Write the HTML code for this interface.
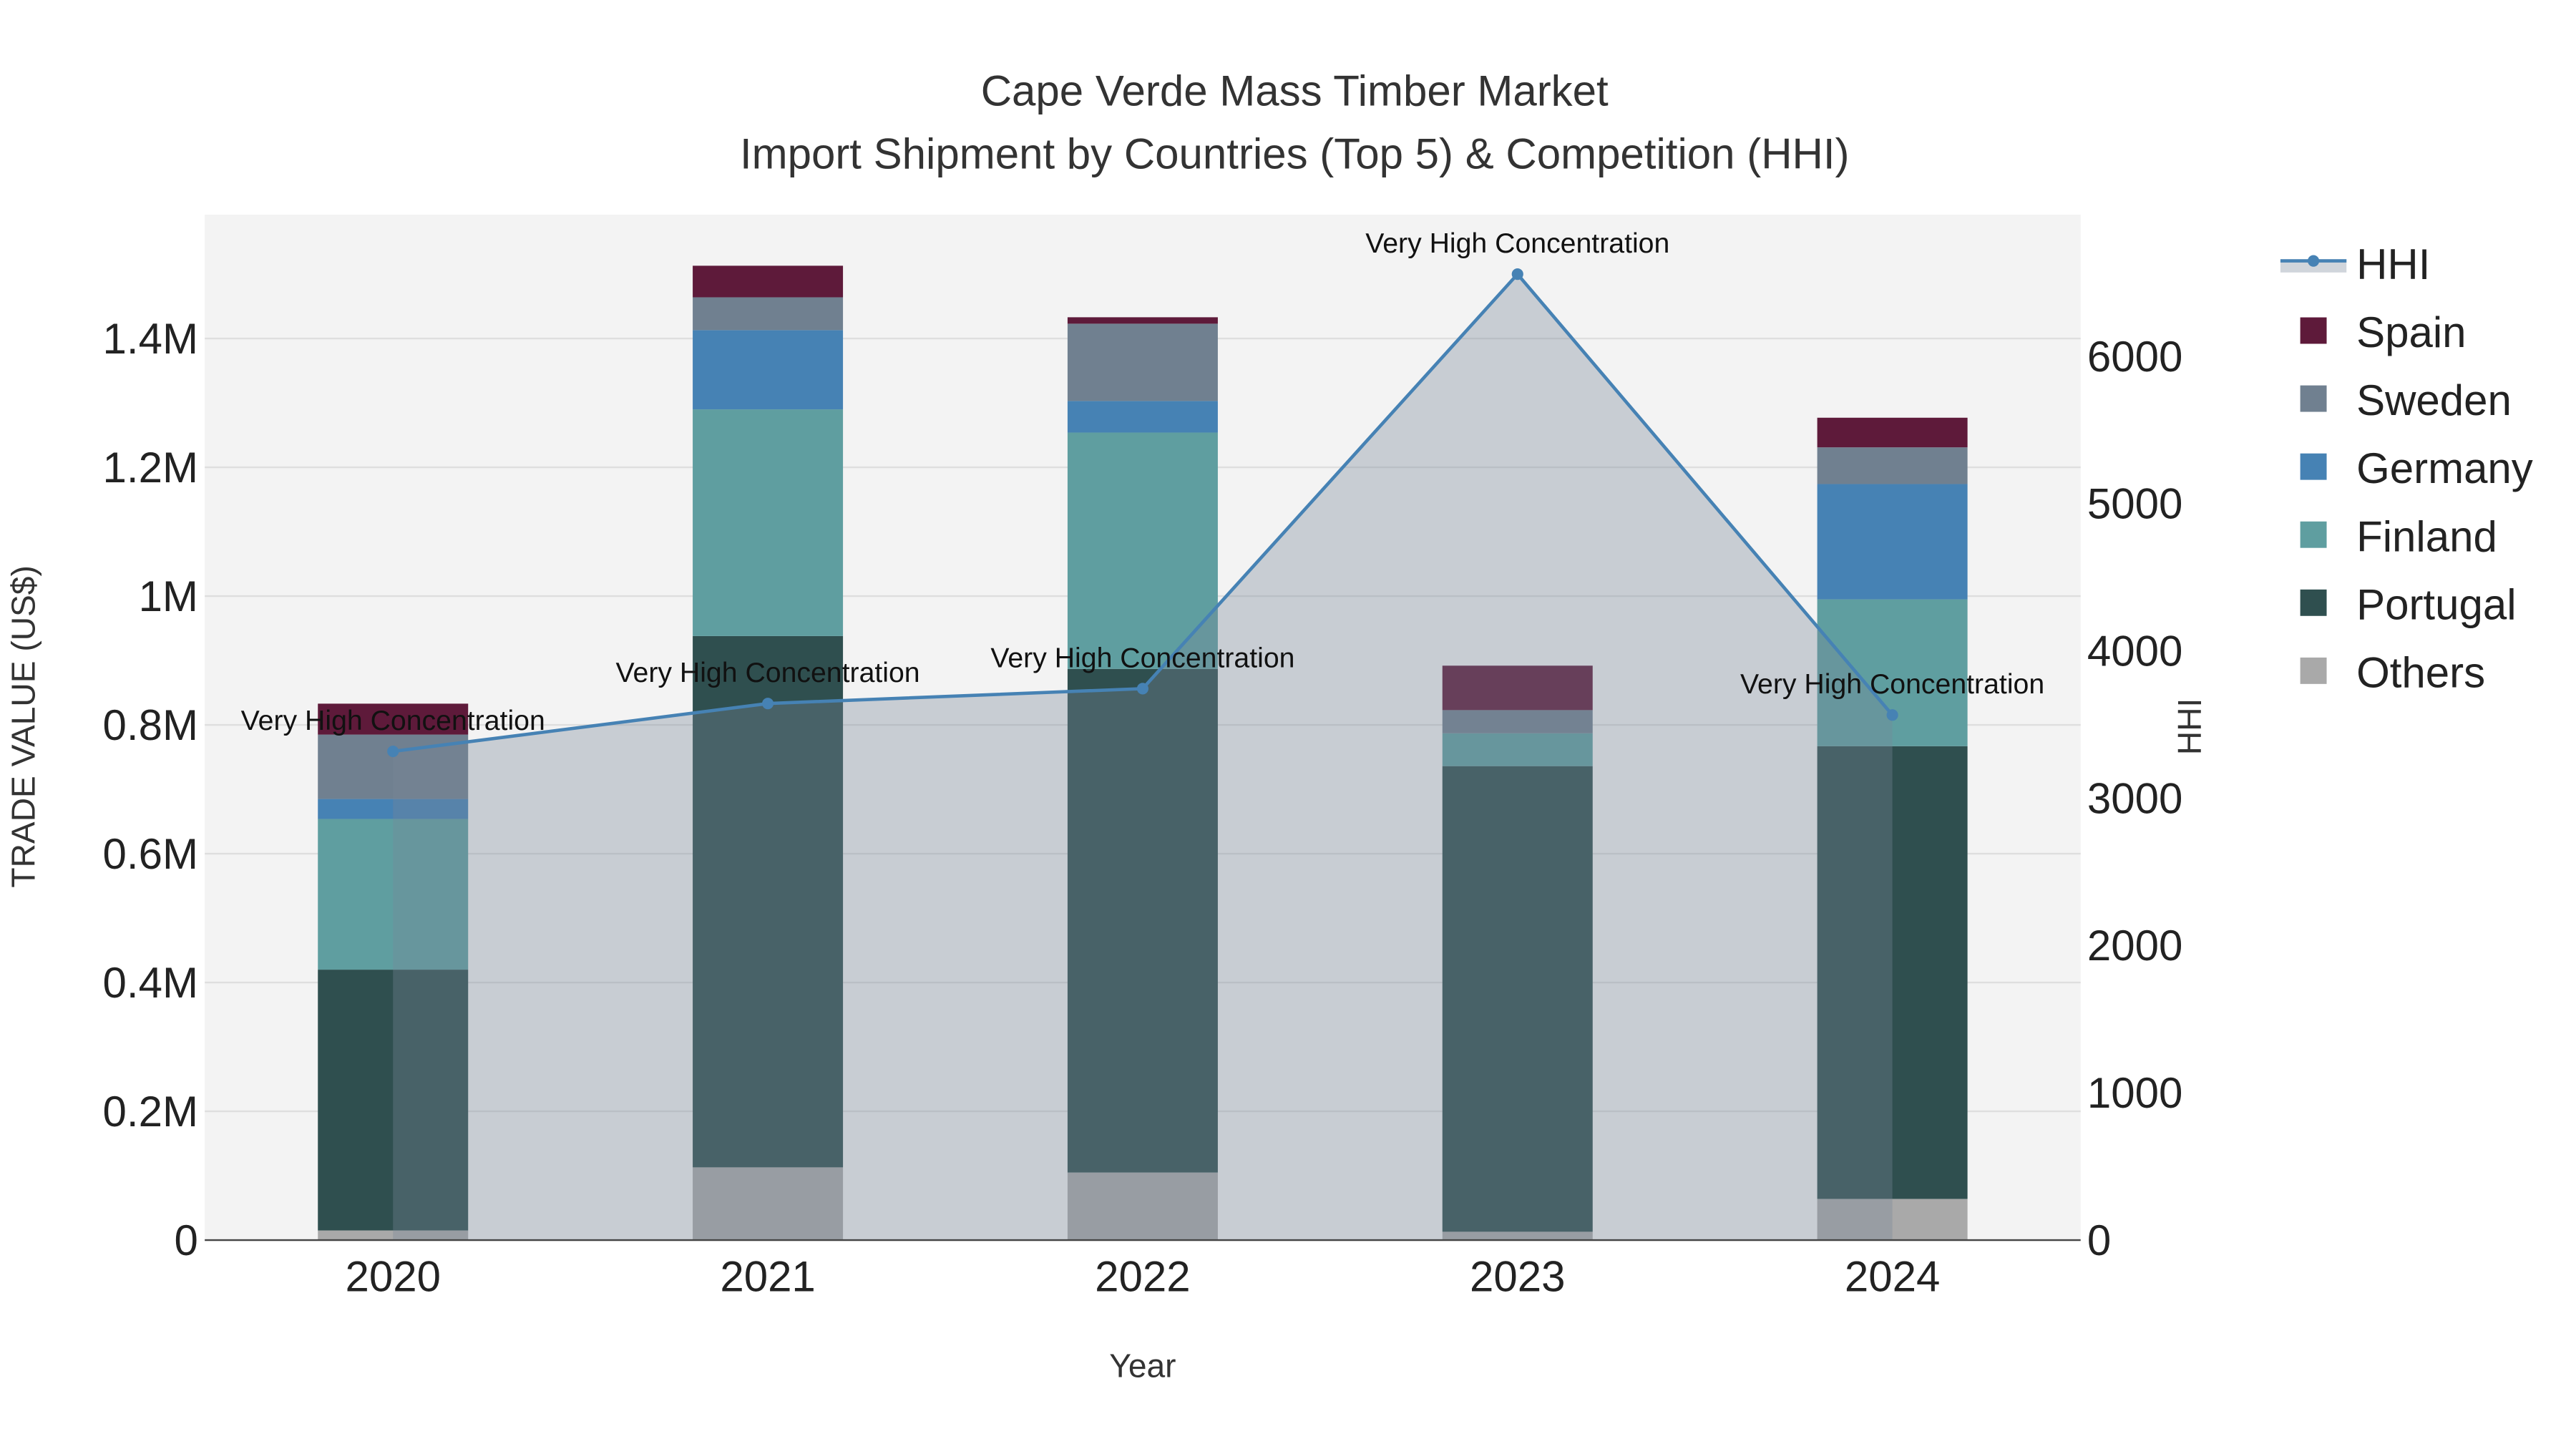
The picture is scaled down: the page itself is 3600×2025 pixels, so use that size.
<!DOCTYPE html>
<html><head><meta charset="utf-8"><style>
html,body{margin:0;padding:0;background:#fff;}
svg{display:block;font-family:"Liberation Sans",sans-serif;}
</style></head><body>
<svg id="chart" width="3600" height="2025" viewBox="0 0 1560 877.5" xmlns="http://www.w3.org/2000/svg">
<rect width="1560" height="877.5" fill="#fff"/>
<rect x="124" y="130" width="1136" height="621" fill="#f3f3f3"/>
<g id="grid"></g>
<g id="bars"></g>
<g id="hhi"></g>
<g id="axes"></g>
<text x="784" y="64" text-anchor="middle" font-size="26" fill="#333">Cape Verde Mass Timber Market</text>
<text x="784" y="102" text-anchor="middle" font-size="26" fill="#333">Import Shipment by Countries (Top 5) &amp; Competition (HHI)</text>
<text x="692" y="834" text-anchor="middle" font-size="20" fill="#333">Year</text>
<text transform="translate(21,440) rotate(-90)" text-anchor="middle" font-size="20" fill="#333">TRADE VALUE (US$)</text>
<text transform="translate(1333,440) rotate(-90)" text-anchor="middle" font-size="20" fill="#333">HHI</text>
<g id="legend"></g>
</svg>
<script>
const years = ["2020","2021","2022","2023","2024"];
const others   = [0.015, 0.113, 0.105, 0.013, 0.064];
const portugal = [0.405, 0.825, 0.782, 0.723, 0.703];
const finland  = [0.234, 0.352, 0.367, 0.051, 0.228];
const germany  = [0.031, 0.123, 0.049, 0.000, 0.179];
const sweden   = [0.100, 0.051, 0.120, 0.036, 0.057];
const spain    = [0.048, 0.049, 0.010, 0.069, 0.046];
const hhi = [3318, 3643, 3744, 6558, 3565];
const hhiLabels = ["Very High Concentration","Very High Concentration","Very High Concentration","Very High Concentration","Very High Concentration"];
const yTicks = [0,0.2,0.4,0.6,0.8,1.0,1.2,1.4];
const yTickLabels = ["0","0.2M","0.4M","0.6M","0.8M","1M","1.2M","1.4M"];
const y2Ticks = [0,1000,2000,3000,4000,5000,6000];
const seriesNames = ["Others","Portugal","Finland","Germany","Sweden","Spain"];
const seriesColors = ["#a9a9a9","#2f4f4f","#5f9ea0","#4682b4","#708090","#5e1a3a"];

const NS="http://www.w3.org/2000/svg";
const X0=124,X1=1260,Y0=751,YT=130;
const xScale=i=>238+i*227;
const yScale=v=>Y0-v*390;
const y2Scale=v=>Y0-v*0.0892;
function mk(tag,attrs,parent){const e=document.createElementNS(NS,tag);for(const k in attrs)e.setAttribute(k,attrs[k]);parent.appendChild(e);return e;}

const grid=document.getElementById('grid');
yTicks.forEach((t,i)=>{
  const l=mk('line',{x1:X0,x2:X1,y1:yScale(t),y2:yScale(t),stroke:'#dedede','stroke-width':1},grid);
  
  
});
const bars=document.getElementById('bars');
const allSeries=[others,portugal,finland,germany,sweden,spain];
years.forEach((y,i)=>{
  let cum=0;
  allSeries.forEach((s,k)=>{
    const v=s[i]; if(v<=0){return;}
    const r=mk('rect',{x:xScale(i)-45.5,width:91,y:yScale(cum+v),height:yScale(cum)-yScale(cum+v),fill:seriesColors[k]},bars);
    
    
    cum+=v;
  });
});
const g=document.getElementById('hhi');
let pts=hhi.map((v,i)=>xScale(i)+','+y2Scale(v));
const area=mk('polygon',{points:xScale(0)+','+Y0+' '+pts.join(' ')+' '+xScale(hhi.length-1)+','+Y0,fill:'rgba(119,136,153,0.35)'},g);


const line=mk('polyline',{points:pts.join(' '),fill:'none',stroke:'#4682b4','stroke-width':2},g);


hhi.forEach((v,i)=>{
  const c=mk('circle',{cx:xScale(i),cy:y2Scale(v),r:3.5,fill:'#4682b4'},g);
  
  
  const t=mk('text',{x:xScale(i),y:y2Scale(v)-13,'text-anchor':'middle','font-size':17,fill:'#111'},g);
  t.textContent=hhiLabels[i];
  
  
});
const ax=document.getElementById('axes');
const base=mk('line',{x1:X0,x2:X1,y1:Y0,y2:Y0,stroke:'#444','stroke-width':1},ax);


yTicks.forEach((t,i)=>{
  const e=mk('text',{x:120,y:yScale(t)+9,'text-anchor':'end','font-size':26,fill:'#222'},ax);
  e.textContent=yTickLabels[i];
  
  
});
y2Ticks.forEach(t=>{
  const e=mk('text',{x:1264,y:y2Scale(t)+9,'text-anchor':'start','font-size':26,fill:'#222'},ax);
  e.textContent=String(t);
  
  
});
years.forEach((y,i)=>{
  const e=mk('text',{x:xScale(i),y:782,'text-anchor':'middle','font-size':26,fill:'#222'},ax);
  e.textContent=y;
  
  
});
const lg=document.getElementById('legend');
const ent=[["HHI",null],["Spain","#5e1a3a"],["Sweden","#708090"],["Germany","#4682b4"],["Finland","#5f9ea0"],["Portugal","#2f4f4f"],["Others","#a9a9a9"]];
ent.forEach((e,i)=>{
  const y=160+i*41.2;
  const gg=mk('g',{},lg);
  
  
  if(e[1]===null){
    mk('rect',{x:1381,y:y-3,width:40,height:8,fill:'rgba(119,136,153,0.35)'},gg);
    mk('line',{x1:1381,x2:1421,y1:y-2,y2:y-2,stroke:'#4682b4','stroke-width':2},gg);
    mk('circle',{cx:1401,cy:y-2,r:3.5,fill:'#4682b4'},gg);
  } else {
    mk('rect',{x:1393,y:y-9,width:16,height:16,fill:e[1]},gg);
  }
  const t=mk('text',{x:1427,y:y+9,'font-size':26,fill:'#222'},gg);
  t.textContent=e[0];
});
</script>
</body></html>
